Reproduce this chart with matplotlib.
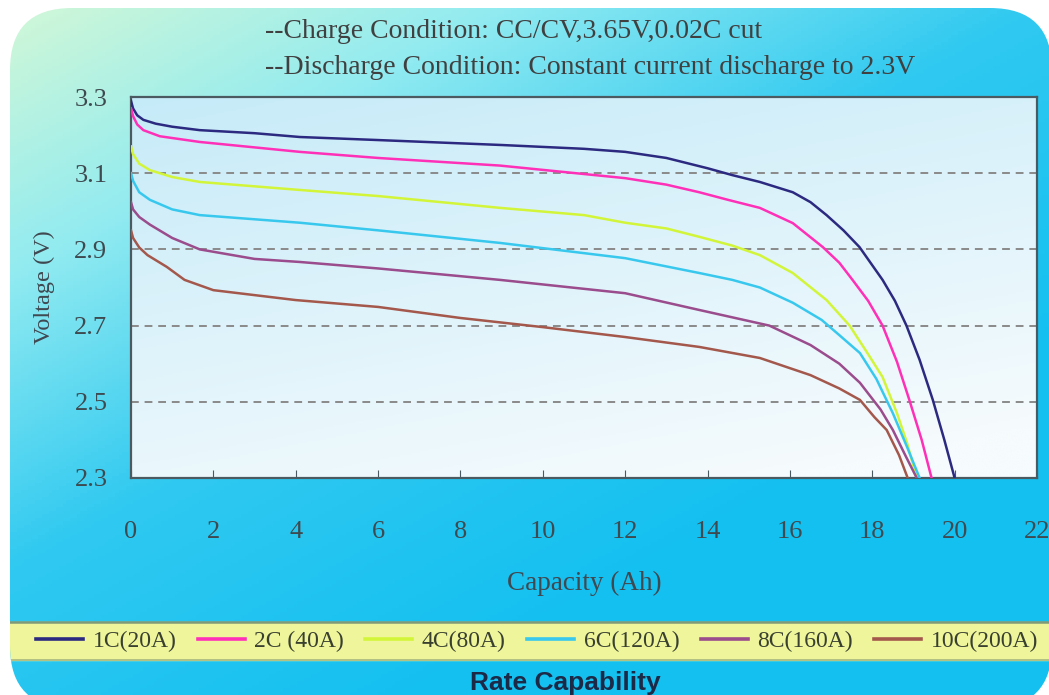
import numpy as np
import matplotlib
matplotlib.use('Agg')
import matplotlib.pyplot as plt
from matplotlib.patches import FancyBboxPatch
from matplotlib.colors import LinearSegmentedColormap

# discharge curves: capacity (Ah) / voltage (V)
cap_1c = [0, 0.05, 0.15, 0.3, 0.6, 1, 1.67, 3, 4.1, 6, 9, 11, 12, 13, 14, 14.6, 15.27, 16.07, 16.5,
          16.89, 17.3, 17.69, 18.25, 18.55, 18.83, 19.15, 19.47, 19.75, 20.0]
v_1c = [3.29, 3.27, 3.252, 3.24, 3.23, 3.222, 3.213, 3.205, 3.195, 3.187, 3.174, 3.164, 3.156, 3.14, 3.113,
        3.095, 3.077, 3.05, 3.024, 2.99, 2.95, 2.906, 2.82, 2.765, 2.70, 2.61, 2.505, 2.40, 2.30]

cap_2c = [0, 0.05, 0.15, 0.3, 0.7, 1.67, 4.1, 6, 8.96, 12, 13, 13.8, 14.5, 15.27, 16.07, 16.8, 17.2,
          17.52, 17.9, 18.25, 18.6, 18.9, 19.2, 19.44]
v_2c = [3.27, 3.25, 3.228, 3.213, 3.197, 3.182, 3.156, 3.14, 3.12, 3.087, 3.07, 3.05, 3.03, 3.009, 2.969,
        2.906, 2.865, 2.82, 2.765, 2.70, 2.605, 2.505, 2.40, 2.30]

cap_4c = [0, 0.05, 0.2, 0.46, 1, 1.67, 4.1, 6, 8.96, 11, 12, 13, 13.8, 14.6, 15.27, 16.07, 16.89, 17.45,
          17.9, 18.25, 18.6, 18.85, 19.08]
v_4c = [3.17, 3.15, 3.125, 3.108, 3.09, 3.077, 3.056, 3.04, 3.009, 2.99, 2.97, 2.955, 2.933, 2.91, 2.885,
        2.838, 2.767, 2.70, 2.625, 2.565, 2.47, 2.39, 2.30]

cap_6c = [0, 0.05, 0.2, 0.46, 1, 1.67, 4.1, 6, 8.96, 12, 13.8, 14.6, 15.27, 16.07, 16.77, 17.2, 17.7,
          18.1, 18.5, 18.85, 19.15]
v_6c = [3.10, 3.08, 3.05, 3.03, 3.005, 2.99, 2.97, 2.95, 2.917, 2.877, 2.838, 2.82, 2.80, 2.76, 2.715,
        2.675, 2.628, 2.56, 2.47, 2.38, 2.30]

cap_8c = [0, 0.05, 0.2, 0.46, 1, 1.67, 3, 4.1, 6, 8.96, 12, 13.8, 15.5, 16.5, 17.2, 17.7, 18.2, 18.5,
          18.8, 19.08]
v_8c = [3.024, 3.005, 2.985, 2.965, 2.93, 2.90, 2.875, 2.867, 2.85, 2.82, 2.785, 2.741, 2.70, 2.649,
        2.60, 2.55, 2.48, 2.426, 2.36, 2.30]

cap_10c = [0, 0.05, 0.2, 0.4, 0.87, 1.3, 2, 4, 6, 8, 10, 12, 13.8, 15.27, 16.5, 17.2, 17.7, 18.05,
           18.35, 18.65, 18.86]
v_10c = [2.95, 2.93, 2.905, 2.885, 2.854, 2.82, 2.793, 2.767, 2.749, 2.72, 2.696, 2.67, 2.644, 2.615,
         2.57, 2.535, 2.505, 2.46, 2.426, 2.36, 2.30]

labels = ['1C(20A)', '2C (40A)', '4C(80A)', '6C(120A)', '8C(160A)', '10C(200A)']
colors = ['#2c2a80', '#ff30b8', '#d2f53a', '#38c8ee', '#9a4c8c', '#a4584c']
curves = [(cap_1c, v_1c), (cap_2c, v_2c), (cap_4c, v_4c),
          (cap_6c, v_6c), (cap_8c, v_8c), (cap_10c, v_10c)]

x_ticks = list(range(0, 23, 2))
y_ticks = [2.3, 2.5, 2.7, 2.9, 3.1, 3.3]
grid_levels = [2.5, 2.7, 2.9, 3.1]

serif = 'Liberation Serif'
W, H = 1049, 695

fig = plt.figure(figsize=(10.49, 6.95), dpi=100)
fig.patch.set_facecolor('white')

# rounded gradient panel behind everything
bg = fig.add_axes([0, 0, 1, 1], zorder=0)
bg.set_xlim(0, W)
bg.set_ylim(H, 0)
bg.axis('off')
xx, yy = np.meshgrid(np.linspace(0, 1, 300), np.linspace(0, 1, 200))
s = np.clip(0.62 * xx + 0.75 * yy, 0, 1)
cmap = LinearSegmentedColormap.from_list('panel', [(0, '#d4f8d6'), (0.3, '#92ebf0'),
                                                   (0.62, '#30c9f1'), (1, '#14c0f0')])
im = bg.imshow(s, cmap=cmap, extent=[0, W, H, 0], aspect='auto', vmin=0, vmax=1)
panel = FancyBboxPatch((10, 8), 1042, 700, boxstyle='round,pad=0,rounding_size=62',
                       facecolor='none', edgecolor='none', transform=bg.transData)
bg.add_patch(panel)
im.set_clip_path(panel)

# legend band
band = bg.axhspan(622, 660, color='#eef59a', zorder=2)
band.set_clip_path(panel)
l1 = bg.axhline(622, color='#7e9a78', lw=1.8, zorder=3)
l2 = bg.axhline(660, color='#a8b880', lw=1.2, zorder=3)
l1.set_clip_path(panel)
l2.set_clip_path(panel)

ax = fig.add_axes([131 / W, 217 / H, 906 / W, 381 / H], zorder=1)
grad = np.clip(0.35 * xx + 0.75 * yy, 0, 1)
pcmap = LinearSegmentedColormap.from_list('plot', ['#c6ebf8', '#f6fbfd'])
ax.imshow(grad, cmap=pcmap, extent=[0, 22, 2.3, 3.3], aspect='auto', zorder=0)

for lv in grid_levels:
    ax.axhline(lv, color='#8a8a8a', lw=1.4, ls=(0, (4, 3)), zorder=1)

for (c, v), col, lab in zip(curves, colors, labels):
    ax.plot(c, v, color=col, lw=1.8, label=lab, zorder=3)

ax.set_xlim(0, 22)
ax.set_ylim(2.3, 3.3)
ax.set_xticks(x_ticks)
ax.set_yticks(y_ticks)
ax.set_yticklabels([f'{t:.1f}' for t in y_ticks])
ax.tick_params(axis='x', direction='in', length=6, pad=31, labelsize=19, colors='#4a5a60', labelcolor='#3e4a50')
ax.tick_params(axis='y', direction='in', length=0, pad=17, labelsize=19, labelcolor='#3e4a50')
for lab in ax.get_xticklabels() + ax.get_yticklabels():
    lab.set_fontfamily(serif)
for sp in ax.spines.values():
    sp.set_color('#4a5a60')
    sp.set_linewidth(1.6)

ax.set_xlabel('Capacity (Ah)', fontsize=19.5, fontfamily=serif, color='#404850', labelpad=20)
ax.set_ylabel('Voltage (V)', fontsize=17.5, fontfamily=serif, color='#404850', labelpad=14)

fig.text(265 / W, 1 - 32 / H, '--Charge Condition: CC/CV,3.65V,0.02C cut', fontsize=20,
         fontfamily=serif, color='#404040', va='center', ha='left')
fig.text(265 / W, 1 - 67 / H, '--Discharge Condition: Constant current discharge to 2.3V', fontsize=20,
         fontfamily=serif, color='#404040', va='center', ha='left')

handles, hl = ax.get_legend_handles_labels()
leg = fig.legend(handles, hl, loc='center', bbox_to_anchor=(537 / W, 1 - 641 / H), ncol=6,
                 frameon=False, handlelength=2.0, handletextpad=0.4, columnspacing=0.9,
                 prop={'family': serif, 'size': 17})
for t in leg.get_texts():
    t.set_color('#3a4030')
for h in leg.legend_handles:
    h.set_linewidth(2.6)

fig.text(565 / W, 1 - 683 / H, 'Rate Capability', fontsize=19, fontweight='bold',
         fontfamily='Liberation Sans', color='#1c2a48', ha='center', va='center')

fig.savefig('out.png', dpi=100)
